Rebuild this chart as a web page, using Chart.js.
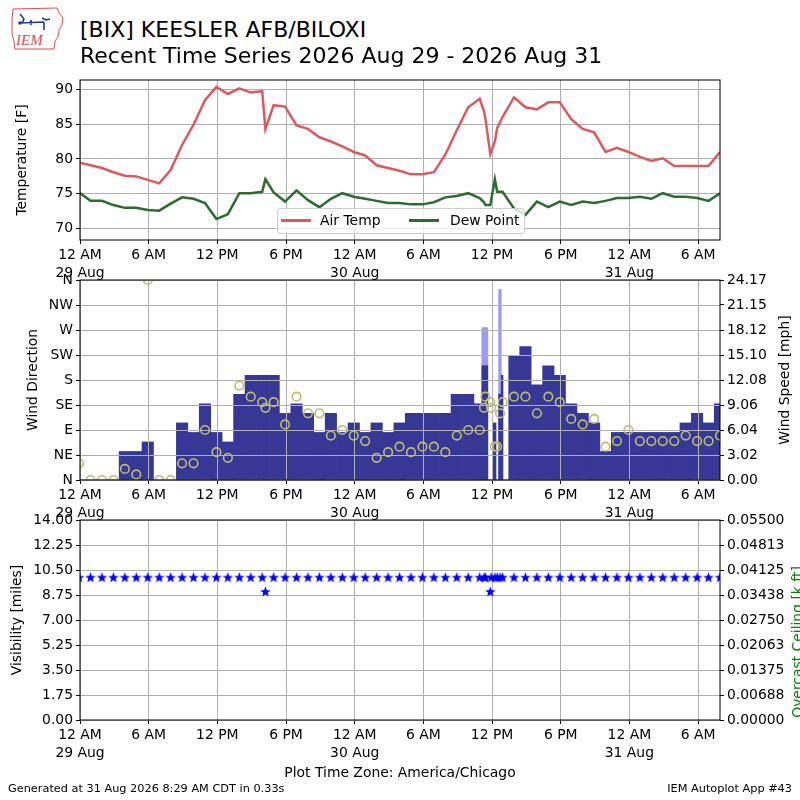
<!DOCTYPE html>
<html>
<head>
<meta charset="utf-8">
<script src="https://cdn.jsdelivr.net/npm/chart.js@4.4.1/dist/chart.umd.min.js"></script>
<style>
  body { margin: 0; background: #fff; width: 800px; height: 800px; position: relative; overflow: hidden; font-family: "DejaVu Sans", sans-serif; }
  canvas { position: absolute; left: 0; }
  .txt { position: absolute; white-space: nowrap; color: #000; z-index: 5; }
  .rot { transform: translate(-50%, -50%) rotate(-90deg); font-size: 13.9px; line-height: 16px; }
  #legend { position: absolute; left: 277px; top: 208px; width: 246px; height: 24px; border: 1px solid #cccccc; border-radius: 3px; background: rgba(255,255,255,0.8); z-index: 6; font-size: 13.9px; }
  #legend span { position: absolute; }
</style>
</head>
<body>

<svg class="txt" style="left:10px;top:6px" width="58" height="46" viewBox="0 0 58 46">
  <path d="M3 3 L47 2 L49 7 L53 12 L52 19 L49 24 L48 31 L45 35 L44 43 L5 43 L4 36 L2 27 L2 14 Z" fill="#fff" stroke="#e8494f" stroke-width="1"/>
  <path d="M10 17 L34 16 M21 14 L21 19 M32 12 L36 14 L40 13 M34 16 L34 24 M10 8 L14 13 L12 17" fill="none" stroke="#2233aa" stroke-width="1.6"/>
  <circle cx="10" cy="17" r="1.8" fill="#2233aa"/>
  <text x="6" y="39" font-family="Liberation Serif" font-style="italic" font-size="15" fill="#e8494f">IEM</text>
</svg>

<div class="txt" style="left:80px;top:16px;font-size:22px;line-height:27px">[BIX] KEESLER AFB/BILOXI</div>
<div class="txt" style="left:80px;top:42px;font-size:22px;line-height:27px">Recent Time Series 2026 Aug 29 - 2026 Aug 31</div>

<canvas id="tempChart" width="800" height="215" style="top:65px"></canvas>
<canvas id="windChart" width="800" height="255" style="top:265px"></canvas>
<canvas id="visChart" width="800" height="295" style="top:505px"></canvas>

<div id="legend">
  <span style="left:3px;top:10px;width:30px;height:3px;background:#dc5a5f"></span>
  <span style="left:42px;top:3px">Air Temp</span>
  <span style="left:131px;top:10px;width:30px;height:3px;background:#2e6b30"></span>
  <span style="left:172px;top:3px">Dew Point</span>
</div>

<div class="txt rot" style="left:784px;top:380px">Wind Speed [mph]</div>
<div class="txt rot" style="left:797px;top:642px;color:#008000">Overcast Ceiling [k ft]</div>

<div class="txt" style="left:8px;top:782px;font-size:11.3px;line-height:14px">Generated at 31 Aug 2026 8:29 AM CDT in 0.33s</div>
<div class="txt" style="right:8px;top:782px;font-size:11.3px;line-height:14px">IEM Autoplot App #43</div>

<script>
// hours since 12 AM 29 Aug (America/Chicago), hourly obs at :55 plus specials
const obsTime = [-0.08, 0.92, 1.92, 2.92, 3.92, 4.92, 5.92, 6.92, 7.92, 8.92,
  9.92, 10.92, 11.92, 12.92, 13.92, 14.92, 15.92, 16.2, 16.92, 17.92,
  18.92, 19.92, 20.92, 21.92, 22.92, 23.92, 24.92, 25.92, 26.92, 27.92,
  28.92, 29.92, 30.92, 31.92, 32.92, 33.92, 34.92, 35.3, 35.42, 35.85,
  35.92, 36.25, 36.45, 36.7, 36.92, 37.0, 37.92, 38.92, 39.92, 40.92,
  41.92, 42.92, 43.92, 44.92, 45.92, 46.92, 47.92, 48.92, 49.92, 50.92,
  51.92, 52.92, 53.92, 54.92, 55.92];

const airTemp = [79.5, 79.1, 78.7, 78.1, 77.6, 77.5, 77.0, 76.5, 78.4, 82.0,
  84.9, 88.4, 90.3, 89.3, 90.1, 89.5, 89.7, 84.3, 87.7, 87.5,
  84.8, 84.3, 83.1, 82.5, 81.8, 81.0, 80.5, 79.1, 78.7, 78.3,
  77.8, 77.8, 78.1, 80.6, 84.1, 87.4, 88.6, 86.8, 85.8, 80.7,
  null, 82.5, 84.4, 85.3, 86.0, null, 88.8, 87.4, 87.1, 88.1,
  88.1, 85.7, 84.3, 83.8, 81.0, 81.6, 81.0, 80.3, 79.7, 80.1,
  79.0, 79.0, 79.0, 79.0, 81.0];

const dewPoint = [75.2, 74.0, 74.0, 73.4, 73.0, 73.0, 72.7, 72.6, 73.6, 74.5,
  74.3, 73.7, 71.4, 72.1, 75.1, 75.1, 75.3, 77.1, 75.2, 73.9,
  75.5, 74.1, 73.1, 74.3, 75.1, 74.6, 74.3, 74.0, 73.7, 73.7,
  73.5, 73.5, 73.8, 74.5, 74.7, 75.1, 74.4, 73.8, 73.4, 73.4,
  null, 77.1, 75.3, 75.3, 75.3, null, 72.9, 72.0, 73.9, 73.1,
  73.9, 73.4, 73.9, 73.7, 74.0, 74.4, 74.4, 74.6, 74.3, 75.1,
  74.6, 74.6, 74.4, 74.0, 75.1];

const windDir = [30, 0, 0, 0, 20, 10, 360, 0, 0, 30,
  30, 90, 50, 40, 170, 150, 140, 130, 140, 100,
  150, 120, 120, 80, 90, 80, 70, 40, 50, 60,
  50, 60, 60, 50, 80, 90, 90, 130, 150, 140,
  130, 60, 60, 120, 140, null, 150, 150, 120, 150,
  140, 110, 100, 110, 60, 70, 90, 70, 70, 70,
  70, 80, 70, 70, 80];

// mph
const windSpeed = [0, 0, 0, 0, 3.45, 3.45, 4.60, 0, 0, 6.90,
  5.75, 9.21, 5.75, 4.60, 10.36, 12.66, 12.66, 12.66, 12.66, 8.06,
  9.21, 8.06, 5.75, 8.06, 5.75, 6.90, 5.75, 6.90, 5.75, 6.90,
  8.06, 8.06, 8.06, 8.06, 10.36, 10.36, 9.21, 13.81, 13.81, 0,
  0, 6.90, 0, 10.36, 12.66, 0, 14.96, 16.11, 11.51, 13.81,
  12.66, 9.21, 8.06, 6.90, 3.45, 5.75, 5.75, 5.75, 5.75, 5.75,
  5.75, 6.90, 8.06, 6.90, 9.21];

const windGust = [null, null, null, null, null, null, null, null, null, null,
  null, null, null, null, null, null, null, null, null, null,
  null, null, null, null, null, null, null, null, null, null,
  null, null, null, null, null, null, null, 18.41, 18.41, null,
  null, null, null, 23.02, null, null, null, null, null, null,
  null, null, null, null, null, null, null, null, null, null,
  null, null, null, null, null];

const visibility = [10, 10, 10, 10, 10, 10, 10, 10, 10, 10,
  10, 10, 10, 10, 10, 10, 10, 9, 10, 10,
  10, 10, 10, 10, 10, 10, 10, 10, 10, 10,
  10, 10, 10, 10, 10, 10, 10, 10, 10, 9,
  10, 10, 10, 10, 10, null, 10, 10, 10, 10,
  10, 10, 10, 10, 10, 10, 10, 10, 10, 10,
  10, 10, 10, 10, 10];

const xTickLabels = [['12 AM', '29 Aug'], '6 AM', '12 PM', '6 PM', ['12 AM', '30 Aug'],
  '6 AM', '12 PM', '6 PM', ['12 AM', '31 Aug'], '6 AM'];
const dirTickLabels = ['N', 'NE', 'E', 'SE', 'S', 'SW', 'W', 'NW', 'N'];
const speedTickLabels = ['0.00', '3.02', '6.04', '9.06', '12.08', '15.10', '18.12', '21.15', '24.17'];
const visTickLabels = ['0.00', '1.75', '3.50', '5.25', '7.00', '8.75', '10.50', '12.25', '14.00'];
const ceilTickLabels = ['0.00000', '0.00688', '0.01375', '0.02063', '0.02750', '0.03438', '0.04125', '0.04813', '0.05500'];

const X_MIN = 0, X_MAX = 55.92;
const SPEED_MAX = 24.1664, CEIL_MAX = 0.055;

Chart.defaults.font.family = 'DejaVu Sans';
Chart.defaults.font.size = 13.9;
Chart.defaults.color = '#000';
Chart.defaults.animation = false;

const GRID = '#b0b0b0';

function pairs(values) {
  return obsTime.map((t, i) => ({ x: t, y: values[i] }));
}

function timeAxis(title) {
  return {
    type: 'linear', min: X_MIN, max: X_MAX, offset: false,
    afterFit: s => { s.height = title ? 80 : 40; },
    grid: { color: GRID, tickColor: '#000', tickLength: 4, offset: false },
    border: { display: false },
    ticks: {
      stepSize: 6, includeBounds: false, autoSkip: false, maxRotation: 0, padding: 3,
      font: { lineHeight: 1.25 },
      callback: (v, i) => xTickLabels[i]
    },
    title: title ? { display: true, text: title, padding: { top: 0, bottom: 18 } } : { display: false }
  };
}

function sideAxis(position, extra) {
  return Object.assign({
    type: 'linear', position: position,
    afterFit: s => { s.width = 80; },
    grid: { color: GRID, tickColor: '#000', tickLength: 4, drawOnChartArea: position === 'left' },
    border: { display: false }
  }, extra);
}

const framePlugin = {
  id: 'frame',
  afterDraw(chart) {
    const { ctx, chartArea: a } = chart;
    ctx.save();
    ctx.strokeStyle = '#000';
    ctx.lineWidth = 1;
    ctx.strokeRect(a.left, a.top, a.right - a.left, a.bottom - a.top);
    ctx.restore();
  }
};

// matplotlib draws the grid above the bars but below the markers
const gridOverBars = {
  id: 'gridOverBars',
  afterDatasetDraw(chart, args) {
    if (args.index !== 1) return;
    chart.ctx.save();
    chart.scales.x.drawGrid(chart.chartArea);
    chart.scales.dir.drawGrid(chart.chartArea);
    chart.ctx.restore();
  }
};

function starImage(size, color) {
  const c = document.createElement('canvas');
  c.width = size; c.height = size;
  const g = c.getContext('2d');
  const r = size / 2, ri = r * 0.42;
  g.beginPath();
  for (let i = 0; i < 10; i++) {
    const a = -Math.PI / 2 + i * Math.PI / 5;
    const rr = i % 2 ? ri : r;
    g.lineTo(r + rr * Math.cos(a), r + 0.6 + rr * Math.sin(a));
  }
  g.closePath();
  g.fillStyle = color;
  g.fill();
  return c;
}

new Chart(document.getElementById('tempChart'), {
  type: 'line',
  data: {
    datasets: [
      { label: 'Air Temp', data: pairs(airTemp), borderColor: '#dc5a5f', borderWidth: 2.5, pointRadius: 0, spanGaps: true, tension: 0 },
      { label: 'Dew Point', data: pairs(dewPoint), borderColor: '#2e6b30', borderWidth: 2.5, pointRadius: 0, spanGaps: true, tension: 0 }
    ]
  },
  options: {
    responsive: false,
    layout: { padding: { top: 15, right: 80, left: 0, bottom: 0 } },
    plugins: { legend: { display: false }, tooltip: { enabled: false } },
    scales: {
      x: timeAxis(null),
      y: sideAxis('left', {
        min: 68.4, max: 91.3,
        ticks: { stepSize: 5, includeBounds: false, padding: 3 },
        title: { display: true, text: 'Temperature [F]', padding: { top: 14 } }
      })
    }
  },
  plugins: [framePlugin]
});

new Chart(document.getElementById('windChart'), {
  type: 'bar',
  data: {
    datasets: [
      { type: 'scatter', label: 'Wind Direction', data: pairs(windDir), yAxisID: 'dir', order: 0, clip: 0,
        pointStyle: 'circle', pointRadius: 4.3, borderWidth: 1.6, borderColor: '#bcbc74', backgroundColor: 'rgba(0,0,0,0)' },
      { label: 'Wind Speed', data: pairs(windSpeed), yAxisID: 'spd', order: 1, stack: 'wind',
        backgroundColor: '#373795', borderWidth: 0, barThickness: 'flex', barPercentage: 1, categoryPercentage: 1 },
      { label: 'Wind Gust', data: pairs(windGust), yAxisID: 'spd', order: 2, stack: 'wind',
        backgroundColor: '#9a9af8', borderWidth: 0, barThickness: 'flex', barPercentage: 1, categoryPercentage: 1 }
    ]
  },
  options: {
    responsive: false,
    layout: { padding: { top: 15, right: 0, left: 0, bottom: 0 } },
    plugins: { legend: { display: false }, tooltip: { enabled: false } },
    scales: {
      x: timeAxis(null),
      dir: sideAxis('left', {
        min: 0, max: 360, stacked: false,
        ticks: { stepSize: 45, padding: 3, callback: (v, i) => dirTickLabels[i] },
        title: { display: true, text: 'Wind Direction', padding: { top: 25 } }
      }),
      spd: sideAxis('right', {
        min: 0, max: SPEED_MAX, stacked: false, beginAtZero: true,
        ticks: { count: 9, padding: 3, callback: (v, i) => speedTickLabels[i] }
      })
    }
  },
  plugins: [gridOverBars, framePlugin]
});

new Chart(document.getElementById('visChart'), {
  type: 'scatter',
  data: {
    datasets: [
      { label: 'Visibility', data: pairs(visibility), yAxisID: 'vis', clip: 0,
        pointStyle: starImage(11, '#0000ff'), pointRadius: 5 }
    ]
  },
  options: {
    responsive: false,
    layout: { padding: { top: 15, right: 0, left: 0, bottom: 0 } },
    plugins: { legend: { display: false }, tooltip: { enabled: false } },
    scales: {
      x: timeAxis('Plot Time Zone: America/Chicago'),
      vis: sideAxis('left', {
        min: 0, max: 14,
        ticks: { stepSize: 1.75, padding: 3, callback: (v, i) => visTickLabels[i] },
        title: { display: true, text: 'Visibility [miles]', padding: { top: 9 } }
      }),
      ceil: sideAxis('right', {
        min: 0, max: CEIL_MAX,
        ticks: { count: 9, padding: 3, callback: (v, i) => ceilTickLabels[i] }
      })
    }
  },
  plugins: [framePlugin]
});
</script>
</body>
</html>
